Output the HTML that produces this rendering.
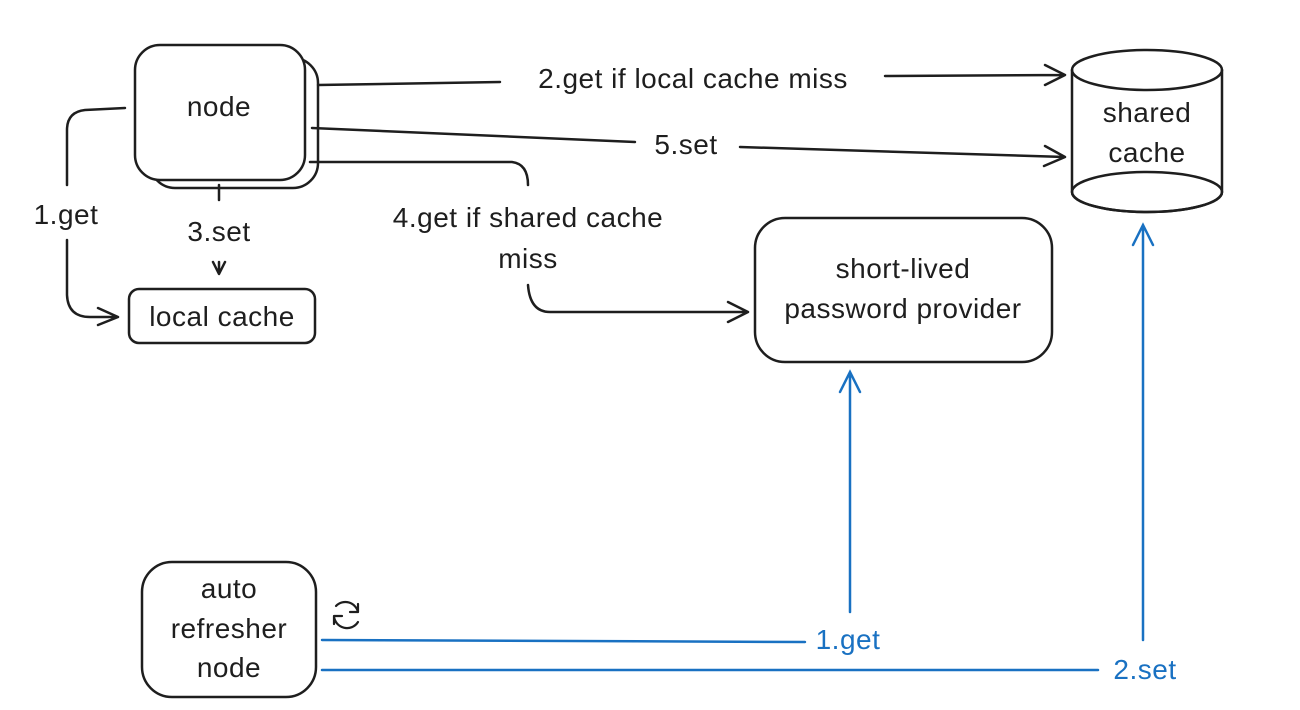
<!DOCTYPE html>
<html><head><meta charset="utf-8"><style>
html,body{margin:0;padding:0;background:#fff;}
svg{display:block}
text{font-family:"Liberation Sans",sans-serif;font-size:28px;fill:#1e1e1e;text-anchor:middle;letter-spacing:0.5px}
.b{fill:#1971c2}
</style></head><body>
<svg width="1300" height="710" viewBox="0 0 1300 710">
<g fill="none" stroke="#1e1e1e" stroke-width="2.5" stroke-linecap="round" stroke-linejoin="round">
<rect x="150" y="58" width="168" height="130" rx="25" fill="#fff"/>
<rect x="135" y="45" width="170" height="135" rx="25" fill="#fff"/>
<rect x="129" y="289" width="186" height="54" rx="10"/>
<path d="M1072,70 L1072,192 A75,20 0 0 0 1222,192 L1222,70"/>
<ellipse cx="1147" cy="70" rx="75" ry="20"/>
<ellipse cx="1147" cy="192" rx="75" ry="20"/>
<rect x="755" y="218" width="297" height="144" rx="30"/>
<rect x="142" y="562" width="174" height="135" rx="30"/>
<path d="M318,85 L500,82 M885,76 L1065,75 M1045,65 L1065,75 L1045,85"/>
<path d="M312,128 L635,142 M740,147 L1065,157 M1045,146 L1065,157 L1044,166"/>
<path d="M310,162 L512,162 Q528,164 528,185 M528,285 Q530,312 550,312 L748,312 M728,302 L748,312 L728,322"/>
<path d="M125,108 L85,110 Q67,112 67,130 L67,185 M67,240 L67,295 Q68,317 90,317 L118,317 M98,308 L118,317 L98,325"/>
<path d="M219,185 L219,200 M213,262 L219,274 L225,262 M219,262 L219,272"/>
<path d="M336,606 A13,13 0 0 1 358,612 M358,604 L358,612 L350,612 M358,622 A13,13 0 0 1 334,616 M334,624 L334,616 L342,616" stroke-width="2.2"/>
</g>
<g fill="none" stroke="#1971c2" stroke-width="2.5" stroke-linecap="round">
<path d="M322,640 L805,642 M850,612 L850,372 M840,392 L850,372 L860,392"/>
<path d="M322,670 L1098,670 M1143,640 L1143,225 M1133,245 L1143,225 L1153,245"/>
</g>
<text x="219" y="116">node</text>
<text x="222" y="326">local cache</text>
<text x="1147" y="122">shared</text>
<text x="1147" y="162">cache</text>
<text x="903" y="278">short-lived</text>
<text x="903" y="318">password provider</text>
<text x="229" y="598">auto</text>
<text x="229" y="638">refresher</text>
<text x="229" y="677">node</text>
<text x="693" y="88">2.get if local cache miss</text>
<text x="686" y="154">5.set</text>
<text x="528" y="227">4.get if shared cache</text>
<text x="528" y="268">miss</text>
<text x="66" y="224">1.get</text>
<text x="219" y="241">3.set</text>
<text class="b" x="848" y="649">1.get</text>
<text class="b" x="1145" y="679">2.set</text>
</svg>
</body></html>
